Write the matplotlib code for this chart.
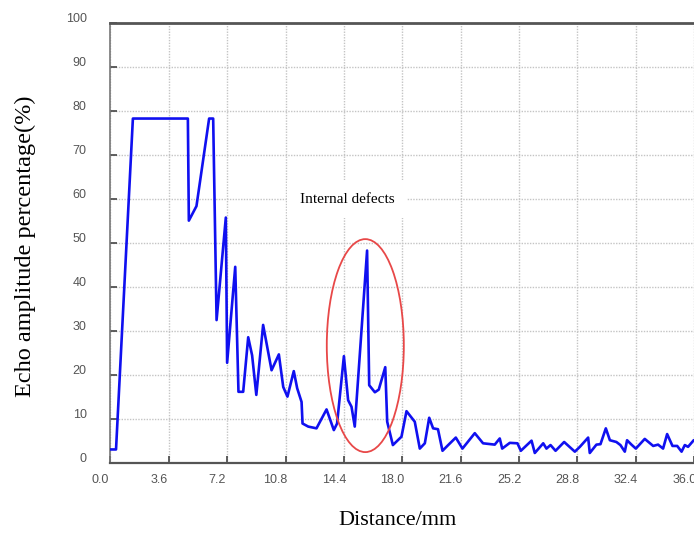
import numpy as np
import matplotlib
matplotlib.use('Agg')
import matplotlib.pyplot as plt
import matplotlib.transforms as mtransforms
from matplotlib.patches import Ellipse

# Echo curve.
distance_mm = [0.0, 0.35, 1.39, 4.78, 4.84, 5.31, 6.09, 6.34, 6.55, 7.12, 7.2,
               7.7, 7.9, 8.19, 8.5, 8.74, 9.0, 9.42, 9.94, 10.39, 10.66, 10.92,
               11.31, 11.52, 11.79, 11.85, 12.2, 12.71, 13.33, 13.78, 13.98,
               14.4, 14.66, 14.87, 15.07, 15.83, 15.96, 16.31, 16.55, 16.95,
               17.07, 17.42, 17.95, 18.26, 18.77, 19.08, 19.39, 19.66, 19.9,
               20.2, 20.48, 20.83, 21.3, 21.71, 22.47, 22.98, 23.7, 24.01,
               24.16, 24.63, 25.1, 25.31, 25.97, 26.17, 26.69, 26.89, 27.14,
               27.45, 27.98, 28.64, 28.95, 29.46, 29.56, 29.97, 30.22, 30.55,
               30.8, 31.2, 31.45, 31.72, 31.86, 32.13, 32.4, 32.95, 33.47,
               33.77, 34.08, 34.33, 34.66, 34.95, 35.22, 35.42, 35.62, 35.97,
               36.4]
echo_pct = [3.1, 3.1, 78.3, 78.3, 55.1, 58.4, 78.3, 78.3, 32.5, 55.8, 22.8,
            44.6, 16.2, 16.2, 28.6, 24.5, 15.5, 31.4, 21.1, 24.7, 17.3, 15.1,
            20.9, 17.0, 13.9, 9.0, 8.3, 7.9, 12.2, 7.5, 9.0,
            24.3, 14.3, 12.8, 8.3, 48.3, 17.7, 16.1, 16.7, 21.8,
            9.4, 4.1, 6.0, 11.8, 9.4, 3.3, 4.5, 10.3, 7.9,
            7.7, 2.8, 4.1, 5.8, 3.3, 6.8, 4.5, 4.2, 5.6,
            3.3, 4.6, 4.5, 2.8, 5.1, 2.3, 4.5, 3.3, 4.1,
            2.8, 4.8, 2.6, 3.7, 5.8, 2.3, 4.2, 4.3, 7.9,
            5.2, 4.8, 4.1, 2.6, 5.2, 4.2, 3.3, 5.5, 3.9,
            4.2, 3.3, 6.6, 3.9, 3.9, 2.6, 4.1, 3.7, 5.2,
            5.0]

x_ticks = [0.0, 3.6, 7.2, 10.8, 14.4, 18.0, 21.6, 25.2, 28.8, 32.4, 36.0]
y_ticks = [0, 10, 20, 30, 40, 50, 60, 70, 80, 90, 100]

# Defect marker (ellipse) and its caption.
defect_center = (15.72, 26.7)
defect_width = 4.75
defect_height = 48.4
defect_label = 'Internal defects'
defect_label_pos = (14.6, 60.0)

fig = plt.figure(figsize=(6.94, 5.36), dpi=100)
ax = fig.add_axes([0.159, 0.136, 0.853, 0.821])

ax.plot(distance_mm, echo_pct, color='#1010f0', linewidth=1.9, zorder=3)

ax.add_patch(Ellipse(defect_center, defect_width, defect_height,
                     fill=False, edgecolor='#e84848', linewidth=1.3, zorder=4))
ax.text(*defect_label_pos, defect_label, family='Liberation Serif',
        fontsize=11, ha='center', va='center', zorder=2,
        bbox=dict(facecolor='white', edgecolor='none', pad=9))

ax.set_xlim(0, 36.5)
ax.set_ylim(0, 100)
ax.set_xticks(x_ticks)
ax.set_yticks(y_ticks)
ax.set_xticklabels([f'{v:.1f}' for v in x_ticks])
ax.set_yticklabels([str(v) for v in y_ticks])

ax.grid(True, linestyle=(0, (1, 1)), color='#c4c4c4', linewidth=1.0, zorder=0)
ax.set_axisbelow(True)

ax.tick_params(axis='both', direction='in', length=5, width=1.2,
               color='#444444', labelcolor='#555555', labelsize=9)
ax.tick_params(axis='y', pad=17)
ax.tick_params(axis='x', pad=8)
for lab in ax.get_xticklabels() + ax.get_yticklabels():
  lab.set_family('Liberation Sans')

# labels in the reference sit a bit left / above their ticks
dx = mtransforms.ScaledTranslation(-10 / 100, 0, fig.dpi_scale_trans)
for lab in ax.get_xticklabels():
  lab.set_transform(lab.get_transform() + dx)
dy = mtransforms.ScaledTranslation(0, 6 / 100, fig.dpi_scale_trans)
for lab in ax.get_yticklabels():
  lab.set_transform(lab.get_transform() + dy)

ax.spines['top'].set_color('#555555')
ax.spines['top'].set_linewidth(2.0)
ax.spines['bottom'].set_color('#555555')
ax.spines['bottom'].set_linewidth(1.6)
ax.spines['left'].set_color('#777777')
ax.spines['left'].set_linewidth(1.2)
ax.spines['right'].set_visible(False)

ax.set_xlabel('Distance/mm', family='Liberation Serif', fontsize=16)
ax.set_ylabel('Echo amplitude percentage(%)', family='Liberation Serif',
              fontsize=17.5)
ax.xaxis.set_label_coords(0.573, 0.028, transform=fig.transFigure)
ax.xaxis.label.set_va('center')
ax.yaxis.set_label_coords(0.037, 0.54, transform=fig.transFigure)
ax.yaxis.label.set_va('center')

fig.savefig('out.png', dpi=100)
